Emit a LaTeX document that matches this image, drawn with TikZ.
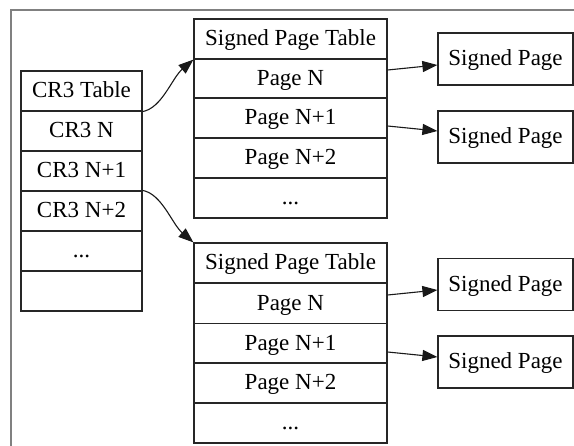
\documentclass[tikz,border=0pt]{standalone}
\usepackage{fontspec}
\setmainfont{Liberation Serif}
\usetikzlibrary{arrows.meta,calc}
\begin{document}
\begin{tikzpicture}[x=1pt,y=-1pt,
  cell/.style={draw=black!85, line width=1.2pt, inner sep=0pt,
    font=\fontsize{23}{27}\selectfont, text height=17pt, text depth=3pt},
  crcell/.style={cell, minimum width=121pt, minimum height=40pt},
  tcell/.style={cell, minimum width=193pt, minimum height=40pt},
  spbox/.style={cell, minimum width=135pt, minimum height=52pt},
  conn/.style={line width=1.1pt, black!90, -{Triangle[length=15pt,width=11pt]}},
  frame/.style={draw=black!50, line width=1.2pt}]
\useasboundingbox (0,0) rectangle (574,446);
\draw[frame] (574,10) -- (11,10) -- (11,446);
% CR3 table
\node[crcell] (cr0) at (81.5,91) {CR3 Table};
\node[crcell] (cr1) at (81.5,131) {CR3 N};
\node[crcell] (cr2) at (81.5,171) {CR3 N+1};
\node[crcell] (cr3) at (81.5,211) {CR3 N+2};
\node[crcell] (cr4) at (81.5,251) {...};
\node[crcell] (cr5) at (81.5,291) {};
% upper signed page table
\node[tcell] (ta0) at (290.5,39) {Signed Page Table};
\node[tcell] (ta1) at (290.5,78.5) {Page N};
\node[tcell] (ta2) at (290.5,118) {Page N+1};
\node[tcell] (ta3) at (290.5,158) {Page N+2};
\node[tcell] (ta4) at (290.5,198) {...};
% lower signed page table
\node[tcell] (tb0) at (290.5,263) {Signed Page Table};
\node[tcell] (tb1) at (290.5,303.5) {Page N};
\node[tcell] (tb2) at (290.5,343.5) {Page N+1};
\node[tcell] (tb3) at (290.5,383) {Page N+2};
\node[tcell] (tb4) at (290.5,423) {...};
% signed pages
\node[spbox] (spa1) at (505.5,59) {Signed Page};
\node[spbox] (spa2) at (505.5,137) {Signed Page};
\node[spbox] (spb1) at (505.5,284.5) {Signed Page};
\node[spbox] (spb2) at (505.5,362) {Signed Page};
% connectors
\draw[conn] (cr0.south east) .. controls (162,108) and (172,78) .. (ta0.south west);
\draw[conn] (cr3.north east) .. controls (162,194) and (172,224) .. (tb0.north west);
\draw[conn] ($(ta1.east)+(0,-8.5)$) -- ($(spa1.west)+(0,6)$);
\draw[conn] ($(ta2.east)+(0,8)$) -- ($(spa2.west)+(0,-6)$);
\draw[conn] ($(tb1.east)+(0,-8.5)$) -- ($(spb1.west)+(0,5.5)$);
\draw[conn] ($(tb2.east)+(0,8.5)$) -- ($(spb2.west)+(0,-5)$);
\end{tikzpicture}
\end{document}
